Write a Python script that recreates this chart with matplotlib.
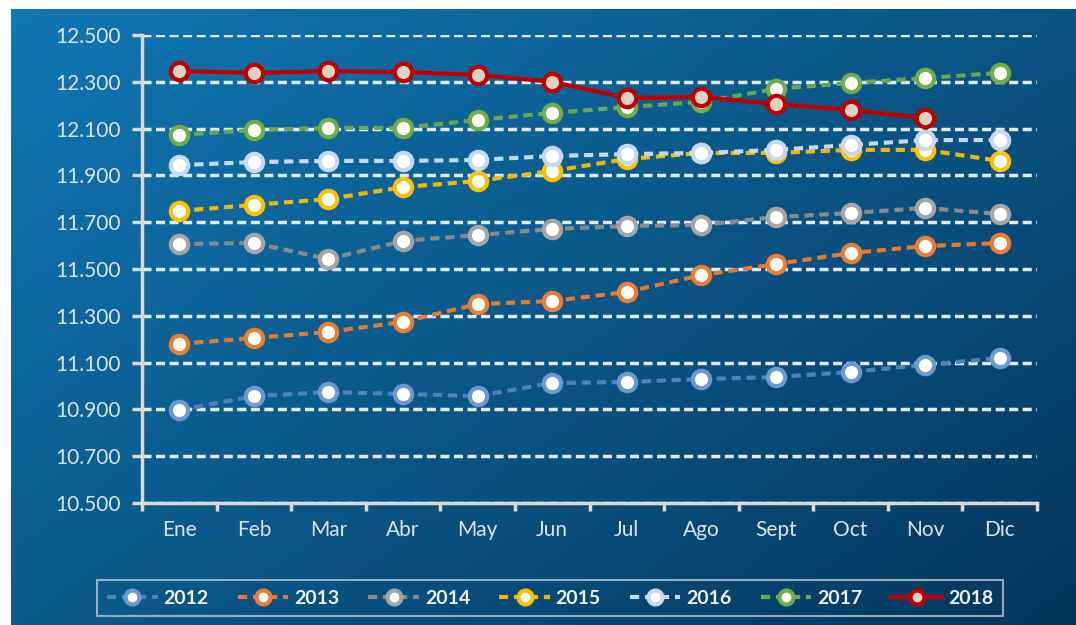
import numpy as np
import matplotlib
matplotlib.use('Agg')
import matplotlib.pyplot as plt
from matplotlib.ticker import FuncFormatter, FixedLocator, NullFormatter

plt.rcParams['font.family'] = ['Lato', 'DejaVu Sans']

# datos
meses = ['Ene', 'Feb', 'Mar', 'Abr', 'May', 'Jun', 'Jul', 'Ago', 'Sept', 'Oct', 'Nov', 'Dic']
y2012 = [10897, 10957, 10974, 10966, 10957, 11013, 11017, 11030, 11038, 11060, 11090, 11120]
y2013 = [11180, 11205, 11231, 11274, 11350, 11363, 11402, 11474, 11521, 11568, 11598, 11611]
y2014 = [11607, 11611, 11543, 11620, 11645, 11671, 11684, 11688, 11722, 11739, 11761, 11735]
y2015 = [11748, 11774, 11799, 11850, 11876, 11919, 11970, 11996, 11996, 12009, 12009, 11962]
y2016 = [11944, 11957, 11962, 11962, 11966, 11983, 11991, 11996, 12009, 12030, 12051, 12051]
y2017 = [12073, 12094, 12103, 12103, 12137, 12167, 12192, 12214, 12270, 12295, 12316, 12338]
y2018 = [12346, 12338, 12346, 12342, 12329, 12300, 12231, 12235, 12205, 12180, 12145]

series = [
    ('2012', y2012, '#4f81bd', '#6a9ad0', 'white', '--'),
    ('2013', y2013, '#e8782a', '#ed7d31', 'white', '--'),
    ('2014', y2014, '#8a8a8a', '#a5a5a5', 'white', '--'),
    ('2015', y2015, '#f2b800', '#ffc000', 'white', '--'),
    ('2016', y2016, '#c6d9f1', '#c6d9f1', 'white', '--'),
    ('2017', y2017, '#6aa84f', '#70ad47', 'white', '--'),
    ('2018', y2018, '#c00000', '#c00000', '#ddd3c3', '-'),
]

fig = plt.figure(figsize=(10.76, 6.25), dpi=100)
fig.patch.set_facecolor('white')

# fondo degradado
bg = fig.add_axes([11 / 1076, 0, 1 - 11 / 1076, 1 - 9 / 625])
bg.set_axis_off()
gx, gy = np.meshgrid(np.linspace(0, 1, 200), np.linspace(0, 1, 200))
t = np.clip(0.55 * gx + 0.45 * gy, 0, 1)
c0 = np.array([0x10, 0x78, 0xb4]) / 255
c1 = np.array([0x05, 0x36, 0x5c]) / 255
img = c0[None, None, :] * (1 - t[..., None]) + c1[None, None, :] * t[..., None]
bg.imshow(img, aspect='auto', extent=[0, 1, 0, 1], origin='upper')
bg.set_xlim(0, 1)
bg.set_ylim(0, 1)

ax = fig.add_axes([142 / 1076, 1 - 503 / 625, (1037 - 142) / 1076, (503 - 35) / 625])
ax.patch.set_alpha(0)

x = np.arange(len(meses))
for nombre, vals, lc, ec, fc, ls in series:
    ax.plot(x[:len(vals)], vals, linestyle=ls, color=lc, lw=3, dashes=(2.2, 1.4) if ls == '--' else (None, None),
            marker='o', markersize=12.5, markerfacecolor=fc, markeredgecolor=ec, markeredgewidth=3,
            label=nombre, zorder=3)

ax.set_xlim(-0.5, 11.5)
ax.set_ylim(10500, 12500)
ax.set_yticks(np.arange(10500, 12501, 200))
ax.yaxis.set_major_formatter(FuncFormatter(lambda v, p: '{:,.0f}'.format(v).replace(',', '.')))
ax.set_xticks(x)
ax.set_xticklabels(meses)
ax.xaxis.set_minor_locator(FixedLocator(np.arange(-0.5, 12, 1)))
ax.xaxis.set_minor_formatter(NullFormatter())
ax.tick_params(axis='x', which='major', length=0, pad=12, labelsize=15, labelcolor='#dbe3ea')
ax.tick_params(axis='x', which='minor', length=6, width=2.5, color='#d9d9d9')
ax.tick_params(axis='y', length=7, width=2.5, color='#d9d9d9', pad=8, labelsize=15, labelcolor='#dbe3ea')

ax.grid(axis='y', color='#e3eaf0', lw=2.5, linestyle=(0, (2.6, 1.3)), zorder=1)
ax.set_axisbelow(True)
for s in ['top', 'right']:
    ax.spines[s].set_visible(False)
for s in ['left', 'bottom']:
    ax.spines[s].set_color('#d9d9d9')
    ax.spines[s].set_linewidth(2.5)

leg = fig.legend(loc='center', bbox_to_anchor=(550 / 1076, 1 - 598 / 625), ncol=7, frameon=True,
                 handlelength=2.6, columnspacing=1.5, handletextpad=0.3, borderpad=0.5,
                 prop={'weight': 'bold', 'size': 14})
leg.get_frame().set_facecolor('none')
leg.get_frame().set_edgecolor('#b9c7d3')
leg.get_frame().set_linewidth(1.5)
leg.get_frame().set_boxstyle('square', pad=0)
for txt in leg.get_texts():
    txt.set_color('#eef2f5')
for h in leg.legend_handles:
    h.set_markersize(10)

fig.savefig('out.png', dpi=100, facecolor=fig.get_facecolor())
